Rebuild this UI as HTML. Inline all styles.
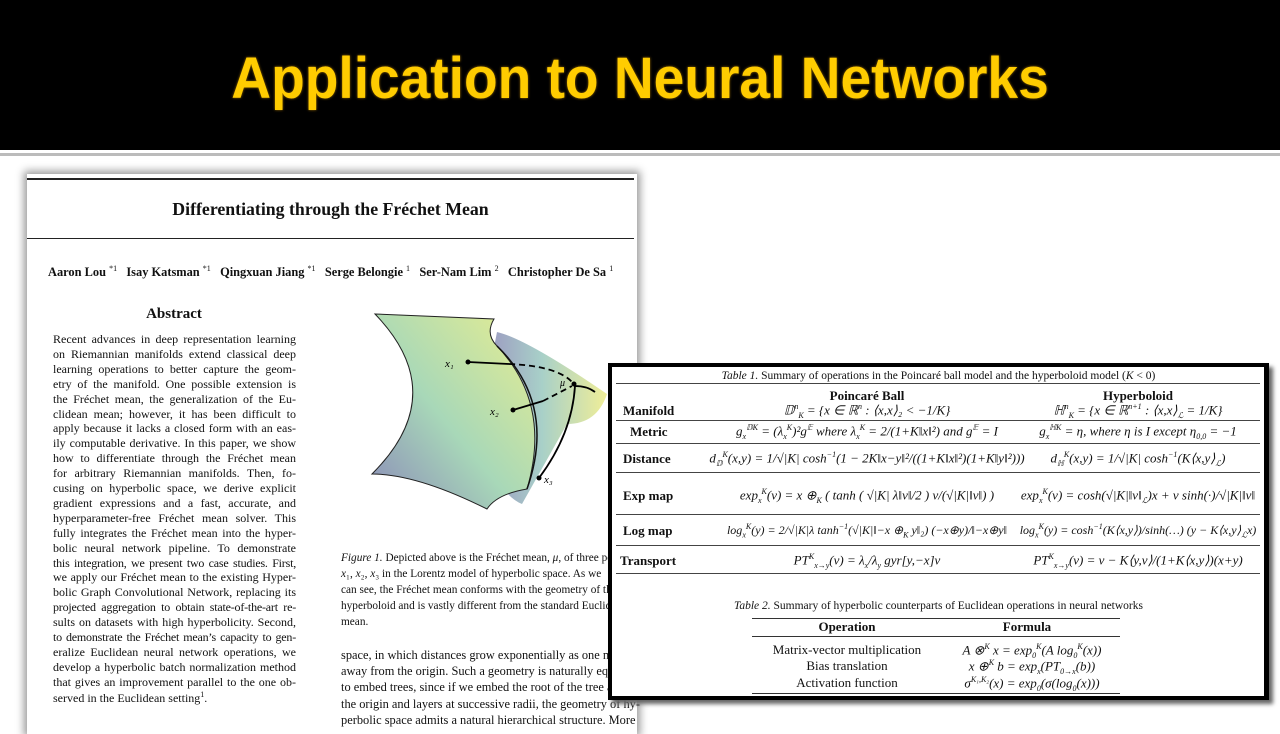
<!DOCTYPE html>
<html><head><meta charset="utf-8"><style>
*{margin:0;padding:0;box-sizing:border-box}
body{width:1280px;height:721px;overflow:hidden;background:#fff;position:relative;font-family:"Liberation Serif",serif;color:#111}
.hdr{position:absolute;left:0;top:0;width:1280px;height:150px;background:#000}
.ttl{position:absolute;left:0;top:45px;width:1280px;text-align:center;font-family:"Liberation Sans",sans-serif;font-weight:bold;font-size:58px;color:#ffcc00;text-shadow:0 0 3px #a07000;transform:scaleX(0.95)}
.ln{position:absolute;left:0;top:153px;width:1280px;height:3px;background:#bbb}
.paper{position:absolute;left:27px;top:174px;width:610px;height:560px;background:#fff;box-shadow:0 0 8px 3px #999}
.a{position:absolute}
.jl{position:absolute;font-size:12px;white-space:nowrap;text-align:justify;text-align-last:justify;overflow:hidden}
.tl{position:absolute;font-size:12px;white-space:nowrap}
.tbl{position:absolute;left:608px;top:363px;width:661px;height:337px;background:#fff;border:4px solid #000;border-right-width:5px;box-shadow:4px 4px 4px #666}
.row{position:absolute;left:4px;right:4px;border-top:1.5px solid #444}
.lab{position:absolute;font-weight:bold;font-size:13px}
.f{position:absolute;font-style:italic;font-size:13px;white-space:nowrap;text-align:center}
.L{left:80px;width:350px}
.R{left:395px;width:262px}
.f sup,.f sub{font-size:8px}
</style></head><body>
<div class="hdr"></div>
<div class="ttl">Application to Neural Networks</div>
<div class="ln"></div>
<div class="paper">
  <div class="a" style="left:0;top:4px;width:607px;border-top:2px solid #222"></div>
  <div class="a" style="left:0;top:25px;width:607px;text-align:center;font-size:17.8px;font-weight:bold">Differentiating through the Fréchet Mean</div>
  <div class="a" style="left:0;top:64px;width:607px;border-top:1.5px solid #222"></div>
  <div class="a" style="left:21px;top:90px;font-size:12.4px;font-weight:bold;white-space:nowrap">Aaron Lou <sup style="font-weight:normal;font-size:8px">*1</sup>&nbsp;&nbsp; Isay Katsman <sup style="font-weight:normal;font-size:8px">*1</sup>&nbsp;&nbsp; Qingxuan Jiang <sup style="font-weight:normal;font-size:8px">*1</sup>&nbsp;&nbsp; Serge Belongie <sup style="font-weight:normal;font-size:8px">1</sup>&nbsp;&nbsp; Ser-Nam Lim <sup style="font-weight:normal;font-size:8px">2</sup>&nbsp;&nbsp; Christopher De Sa <sup style="font-weight:normal;font-size:8px">1</sup></div>
  <div class="a" style="left:26px;top:132px;width:242px;text-align:center;font-size:15px;font-weight:bold">Abstract</div>
  <div class="a" style="left:26px;top:158px;width:243px">
    <div class="jl" style="left:0;width:243px;top:0px">Recent advances in deep representation learning</div>
    <div class="jl" style="left:0;width:243px;top:14.9px">on Riemannian manifolds extend classical deep</div>
    <div class="jl" style="left:0;width:243px;top:29.8px">learning operations to better capture the geom-</div>
    <div class="jl" style="left:0;width:243px;top:44.7px">etry of the manifold. One possible extension is</div>
    <div class="jl" style="left:0;width:243px;top:59.6px">the Fréchet mean, the generalization of the Eu-</div>
    <div class="jl" style="left:0;width:243px;top:74.5px">clidean mean; however, it has been difficult to</div>
    <div class="jl" style="left:0;width:243px;top:89.4px">apply because it lacks a closed form with an eas-</div>
    <div class="jl" style="left:0;width:243px;top:104.3px">ily computable derivative. In this paper, we show</div>
    <div class="jl" style="left:0;width:243px;top:119.2px">how to differentiate through the Fréchet mean</div>
    <div class="jl" style="left:0;width:243px;top:134.1px">for arbitrary Riemannian manifolds. Then, fo-</div>
    <div class="jl" style="left:0;width:243px;top:149px">cusing on hyperbolic space, we derive explicit</div>
    <div class="jl" style="left:0;width:243px;top:163.9px">gradient expressions and a fast, accurate, and</div>
    <div class="jl" style="left:0;width:243px;top:178.8px">hyperparameter-free Fréchet mean solver. This</div>
    <div class="jl" style="left:0;width:243px;top:193.7px">fully integrates the Fréchet mean into the hyper-</div>
    <div class="jl" style="left:0;width:243px;top:208.6px">bolic neural network pipeline. To demonstrate</div>
    <div class="jl" style="left:0;width:243px;top:223.5px;letter-spacing:-0.2px">this integration, we present two case studies. First,</div>
    <div class="jl" style="left:0;width:243px;top:238.4px">we apply our Fréchet mean to the existing Hyper-</div>
    <div class="jl" style="left:0;width:243px;top:253.3px">bolic Graph Convolutional Network, replacing its</div>
    <div class="jl" style="left:0;width:243px;top:268.2px;letter-spacing:-0.2px">projected aggregation to obtain state-of-the-art re-</div>
    <div class="jl" style="left:0;width:243px;top:283.1px">sults on datasets with high hyperbolicity. Second,</div>
    <div class="jl" style="left:0;width:243px;top:298px;letter-spacing:-0.2px">to demonstrate the Fréchet mean’s capacity to gen-</div>
    <div class="jl" style="left:0;width:243px;top:312.9px">eralize Euclidean neural network operations, we</div>
    <div class="jl" style="left:0;width:243px;top:327.8px">develop a hyperbolic batch normalization method</div>
    <div class="jl" style="left:0;width:243px;top:342.7px">that gives an improvement parallel to the one ob-</div>
    <div class="tl" style="left:0;top:357.6px">served in the Euclidean setting<sup style="font-size:8px">1</sup>.</div>
  </div>
  <svg class="a" style="left:340px;top:130px" width="250" height="210" viewBox="0 0 250 210">
    <defs>
      <linearGradient id="g1" x1="0" y1="1" x2="1" y2="0"><stop offset="0" stop-color="#8a8ab8"/><stop offset=".45" stop-color="#a8d8b8"/><stop offset="1" stop-color="#e8ee90"/></linearGradient>
      <linearGradient id="g2" x1="0" y1="0" x2="1" y2="0"><stop offset="0" stop-color="#9a90c0"/><stop offset=".5" stop-color="#a8d0c8"/><stop offset="1" stop-color="#f0ee98"/></linearGradient>
    </defs>
    <path d="M130 28 Q160 35 240 90 Q230 120 200 120 L155 200 Q130 190 110 130 Z" fill="url(#g2)"/>
    <path d="M8 10 L127 15 Q118 30 130 42 Q185 100 160 185 Q130 190 120 205 Q50 170 5 170 Q85 90 8 10Z" fill="url(#g1)" stroke="#222" stroke-width="1"/>
    <path d="M130 42 Q190 100 160 185" fill="none" stroke="#111" stroke-width="1.5"/>
    <path d="M101 58 L142 60" stroke="#000" stroke-width="1.8"/><path d="M142 60 Q190 62 205 78" stroke="#000" stroke-width="1.8" stroke-dasharray="6 4" fill="none"/>
    <path d="M146 106 L176 97" stroke="#000" stroke-width="1.8"/><path d="M176 97 L205 82" stroke="#000" stroke-width="1.8" stroke-dasharray="6 4"/>
    <path d="M172 174 Q205 130 208 82 Q220 82 228 88" stroke="#000" stroke-width="1.8" fill="none"/>
    <circle cx="101" cy="58" r="2.5"/><circle cx="146" cy="106" r="2.5"/><circle cx="172" cy="174" r="2.5"/><circle cx="207" cy="80" r="2.5"/>
    <text x="78" y="63" font-size="11" font-style="italic" font-family="Liberation Serif">x₁</text>
    <text x="123" y="111" font-size="11" font-style="italic" font-family="Liberation Serif">x₂</text>
    <text x="177" y="179" font-size="11" font-style="italic" font-family="Liberation Serif">x₃</text>
    <text x="193" y="82" font-size="10" font-style="italic" font-family="Liberation Serif">μ</text>
  </svg>
  <div class="a" style="left:314px;top:376px;font-size:11.3px;line-height:16px;white-space:nowrap">
    <i>Figure 1.</i> Depicted above is the Fréchet mean, <i>μ</i>, of three points<br>
    <i>x</i>₁, <i>x</i>₂, <i>x</i>₃ in the Lorentz model of hyperbolic space. As we<br>
    can see, the Fréchet mean conforms with the geometry of the<br>
    hyperboloid and is vastly different from the standard Euclidean<br>
    mean.</div>
  <div class="a" style="left:314px;top:473px;font-size:12.4px;line-height:16.2px;white-space:nowrap">space, in which distances grow exponentially as one moves<br>away from the origin. Such a geometry is naturally equipped<br>to embed trees, since if we embed the root of the tree at<br>the origin and layers at successive radii, the geometry of hy-<br>perbolic space admits a natural hierarchical structure. More</div>
</div>
<div class="tbl">
  <div class="a" style="left:0;width:653px;top:3px;text-align:center;font-size:11.5px"><i>Table 1.</i> Summary of operations in the Poincaré ball model and the hyperboloid model (<i>K</i> &lt; 0)</div>
  <div class="row" style="top:16px"></div>
  <div class="a" style="left:80px;width:350px;text-align:center;top:21px;font-weight:bold;font-size:13px">Poincaré Ball</div>
  <div class="a" style="left:395px;width:262px;text-align:center;top:21px;font-weight:bold;font-size:13px">Hyperboloid</div>
  <div class="lab" style="left:11px;top:36px">Manifold</div>
  <div class="f L" style="top:35px">𝔻<sup>n</sup><sub>K</sub> = {x ∈ ℝ<sup>n</sup> : ⟨x,x⟩₂ &lt; −1/K}</div>
  <div class="f R" style="top:35px">ℍ<sup>n</sup><sub>K</sub> = {x ∈ ℝ<sup>n+1</sup> : ⟨x,x⟩<sub>ℒ</sub> = 1/K}</div>
  <div class="row" style="top:53px"></div>
  <div class="lab" style="left:18px;top:57px">Metric</div>
  <div class="f L" style="top:56px">g<sub>x</sub><sup>𝔻K</sup> = (λ<sub>x</sub><sup>K</sup>)²g<sup>𝔼</sup> where λ<sub>x</sub><sup>K</sup> = 2/(1+K‖x‖²) and g<sup>𝔼</sup> = I</div>
  <div class="f R" style="top:56px">g<sub>x</sub><sup>ℍK</sup> = η, where η is I except η<sub>0,0</sub> = −1</div>
  <div class="row" style="top:76px"></div>
  <div class="lab" style="left:11px;top:84px">Distance</div>
  <div class="f L" style="top:83px">d<sub>𝔻</sub><sup>K</sup>(x,y) = 1/√|K| cosh<sup>−1</sup>(1 − 2K‖x−y‖²/((1+K‖x‖²)(1+K‖y‖²)))</div>
  <div class="f R" style="top:83px">d<sub>ℍ</sub><sup>K</sup>(x,y) = 1/√|K| cosh<sup>−1</sup>(K⟨x,y⟩<sub>ℒ</sub>)</div>
  <div class="row" style="top:105px"></div>
  <div class="lab" style="left:11px;top:121px">Exp map</div>
  <div class="f L" style="top:120px">exp<sub>x</sub><sup>K</sup>(v) = x ⊕<sub>K</sub> ( tanh ( √|K| λ‖v‖/2 ) v/(√|K|‖v‖) )</div>
  <div class="f R" style="top:120px">exp<sub>x</sub><sup>K</sup>(v) = cosh(√|K|‖v‖<sub>ℒ</sub>)x + v sinh(·)/√|K|‖v‖</div>
  <div class="row" style="top:147px"></div>
  <div class="lab" style="left:11px;top:156px">Log map</div>
  <div class="f L" style="top:155px;font-size:12px">log<sub>x</sub><sup>K</sup>(y) = 2/√|K|λ tanh<sup>−1</sup>(√|K|‖−x ⊕<sub>K</sub> y‖₂) (−x⊕y)/‖−x⊕y‖</div>
  <div class="f R" style="top:155px;font-size:12px">log<sub>x</sub><sup>K</sup>(y) = cosh<sup>−1</sup>(K⟨x,y⟩)/sinh(…) (y − K⟨x,y⟩<sub>ℒ</sub>x)</div>
  <div class="row" style="top:178px"></div>
  <div class="lab" style="left:8px;top:186px">Transport</div>
  <div class="f L" style="top:185px">PT<sup>K</sup><sub>x→y</sub>(v) = λ<sub>x</sub>/λ<sub>y</sub> gyr[y,−x]v</div>
  <div class="f R" style="top:185px">PT<sup>K</sup><sub>x→y</sub>(v) = v − K⟨y,v⟩/(1+K⟨x,y⟩)(x+y)</div>
  <div class="row" style="top:206px"></div>
  <div class="a" style="left:0;width:653px;top:233px;text-align:center;font-size:11.5px"><i>Table 2.</i> Summary of hyperbolic counterparts of Euclidean operations in neural networks</div>
  <div class="a" style="left:140px;top:251px;width:368px;border-top:1.5px solid #333"></div>
  <div class="a" style="left:140px;width:190px;text-align:center;top:252px;font-weight:bold;font-size:13px">Operation</div>
  <div class="a" style="left:320px;width:190px;text-align:center;top:252px;font-weight:bold;font-size:13px">Formula</div>
  <div class="a" style="left:140px;top:269px;width:368px;border-top:1px solid #333"></div>
  <div class="a" style="left:140px;top:275px;width:190px;text-align:center;font-size:13px">Matrix-vector multiplication</div>
  <div class="a" style="left:140px;top:291px;width:190px;text-align:center;font-size:13px">Bias translation</div>
  <div class="a" style="left:140px;top:308px;width:190px;text-align:center;font-size:13px">Activation function</div>
  <div class="f" style="left:320px;width:200px;top:275px">A ⊗<sup>K</sup> x = exp<sub>0</sub><sup>K</sup>(A log<sub>0</sub><sup>K</sup>(x))</div>
  <div class="f" style="left:320px;width:200px;top:291px">x ⊕<sup>K</sup> b = exp<sub>x</sub>(PT<sub>0→x</sub>(b))</div>
  <div class="f" style="left:320px;width:200px;top:308px">σ<sup>K₁,K₂</sup>(x) = exp<sub>0</sub>(σ(log<sub>0</sub>(x)))</div>
  <div class="a" style="left:140px;top:326px;width:368px;border-top:1.5px solid #333"></div>
</div>
</body></html>
